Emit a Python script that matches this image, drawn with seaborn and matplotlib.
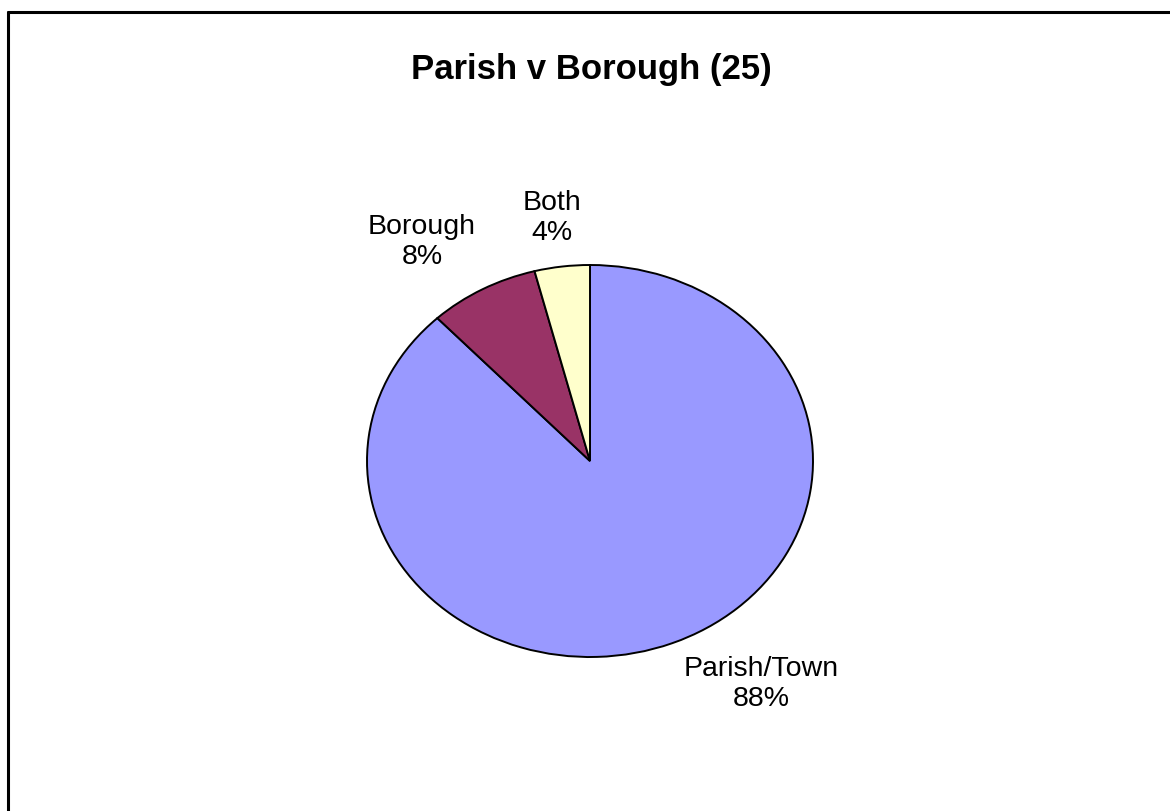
import matplotlib
matplotlib.use("Agg")
import matplotlib.pyplot as plt
from matplotlib.lines import Line2D
import seaborn as sns

# Survey responses (25 in total)
categories = ["Parish/Town", "Borough", "Both"]
counts = [22, 2, 1]
colors = ["#9999FF", "#993366", "#FFFFCC"]
title = "Parish v Borough (25)"

# label anchor points in pie-axes coordinates (radius 1)
label_xy = [(0.767, -1.138), (-0.753, 1.117), (-0.170, 1.240)]

sns.set_theme(style="white")
plt.rcParams["font.family"] = ["Liberation Sans", "DejaVu Sans"]

fig = plt.figure(figsize=(11.70, 8.11), dpi=100)
fig.patch.set_facecolor("white")

# pie is drawn slightly wider than tall
ax = fig.add_axes([367 / 1170, (811 - 657) / 811, 446 / 1170, 392 / 811])
wedges, _ = ax.pie(
    counts,
    colors=colors,
    startangle=90,
    counterclock=False,
    wedgeprops=dict(edgecolor="black", linewidth=1.4),
)
ax.set_aspect("auto")
ax.set_xlim(-1, 1)
ax.set_ylim(-1, 1)
ax.axis("off")

total = sum(counts)
for name, cnt, (lx, ly) in zip(categories, counts, label_xy):
    pct = round(100 * cnt / total)
    ax.text(lx, ly, f"{name}\n{pct}%", ha="center", va="center",
            fontsize=20.5, linespacing=1.2, color="black", clip_on=False)

fig.text(591 / 1170, 1 - 69 / 811, title, ha="center", va="center",
         fontsize=25, fontweight="bold", color="black")

# chart-area frame (top and left edges visible)
fig.add_artist(Line2D([8 / 1170, 1.0], [1 - 12 / 811, 1 - 12 / 811],
                      transform=fig.transFigure, color="black", linewidth=2.2))
fig.add_artist(Line2D([8 / 1170, 8 / 1170], [0.0, 1 - 12 / 811],
                      transform=fig.transFigure, color="black", linewidth=2.2))

fig.savefig("out.png", dpi=100, facecolor="white")
